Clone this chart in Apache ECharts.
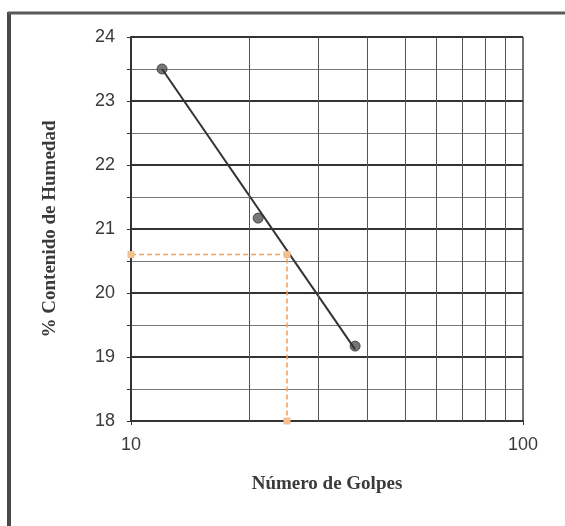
<!DOCTYPE html>
<html>
<head>
<meta charset="utf-8">
<script src="https://cdn.jsdelivr.net/npm/echarts@6/dist/echarts.min.js"></script>
<style>html,body{margin:0;padding:0;background:#fff;}#c{width:565px;height:526px;}</style>
</head>
<body>
<div id="c"></div>
<script>
// Data
const golpes = [12, 21.1, 37.3];          // Número de Golpes
const humedad = [23.5, 21.17, 19.17];     // % Contenido de Humedad
const trendX = [12, 37.3];
const trendY = [23.5, 19.12];
const lecturaX = [10, 25, 25];            // reading at 25 blows
const lecturaY = [20.6, 20.6, 18];
const xGridValues = [20, 30, 40, 50, 60, 70, 80, 90];
const xTickLabels = [10, 100];
const yTickLabels = [18, 19, 20, 21, 22, 23, 24];

const chart = echarts.init(document.getElementById('c'), null, {renderer: 'canvas'});
const pts = golpes.map((g, i) => [g, humedad[i]]);
const trend = trendX.map((x, i) => [x, trendY[i]]);
const lect = lecturaX.map((x, i) => [x, lecturaY[i]]);

chart.setOption({
  animation: false,
  backgroundColor: '#fff',
  graphic: [
    {type: 'line', shape: {x1: 9, y1: 12, x2: 9, y2: 530}, style: {stroke: '#4a4a4a', lineWidth: 4}},
    {type: 'line', shape: {x1: 8, y1: 13, x2: 570, y2: 13}, style: {stroke: '#5a5a5a', lineWidth: 3}}
  ],
  grid: {left: 131, top: 37, width: 392, height: 384, containLabel: false},
  xAxis: {
    type: 'log', logBase: 10, min: 10, max: 100,
    name: 'Número de Golpes', nameLocation: 'middle', nameGap: 54,
    nameTextStyle: {fontFamily: 'Liberation Serif', fontWeight: 'bold', fontSize: 19, color: '#3a3a3a'},
    axisLine: {show: true, lineStyle: {color: '#333', width: 2}},
    axisTick: {show: true, length: 4, lineStyle: {color: '#333'}},
    axisLabel: {
      fontFamily: 'Liberation Sans', fontSize: 18, color: '#3a3a3a', margin: 15,
      formatter: v => (xTickLabels.indexOf(Math.round(v)) >= 0 ? String(Math.round(v)) : '')
    },
    splitLine: {show: true, lineStyle: {color: '#444', width: 1.5}}
  },
  yAxis: {
    type: 'value', min: 18, max: 24, interval: 1,
    name: '% Contenido de Humedad', nameLocation: 'middle', nameGap: 71,
    nameTextStyle: {fontFamily: 'Liberation Serif', fontWeight: 'bold', fontSize: 19, color: '#3a3a3a'},
    axisLine: {show: true, lineStyle: {color: '#333', width: 2}},
    axisTick: {show: true, length: 4, lineStyle: {color: '#333'}},
    minorTick: {show: true, splitNumber: 2, length: 4, lineStyle: {color: '#333'}},
    axisLabel: {
      fontFamily: 'Liberation Sans', fontSize: 18, color: '#3a3a3a', margin: 16,
      formatter: v => (yTickLabels.indexOf(v) >= 0 ? String(v) : '')
    },
    splitLine: {show: true, lineStyle: {color: '#333', width: 2}},
    minorSplitLine: {show: true, lineStyle: {color: '#777', width: 1}}
  },
  series: [
    {
      type: 'line', data: [], silent: true,
      markLine: {
        silent: true, symbol: 'none', label: {show: false},
        lineStyle: {color: '#555', width: 1, type: 'solid'},
        data: xGridValues.map(v => ({xAxis: v}))
      }
    },
    {
      type: 'line', data: lect, silent: true,
      symbol: 'rect', symbolSize: 7,
      itemStyle: {color: '#f3c08e'},
      lineStyle: {color: '#eea35a', width: 1.5, type: [5, 3]}
    },
    {
      type: 'line', data: trend, silent: true, symbol: 'none',
      lineStyle: {color: '#333', width: 2}
    },
    {
      type: 'scatter', data: pts, symbol: 'circle', symbolSize: 10,
      itemStyle: {color: '#555', borderColor: '#333', borderWidth: 1}
    }
  ]
});
</script>
</body>
</html>
